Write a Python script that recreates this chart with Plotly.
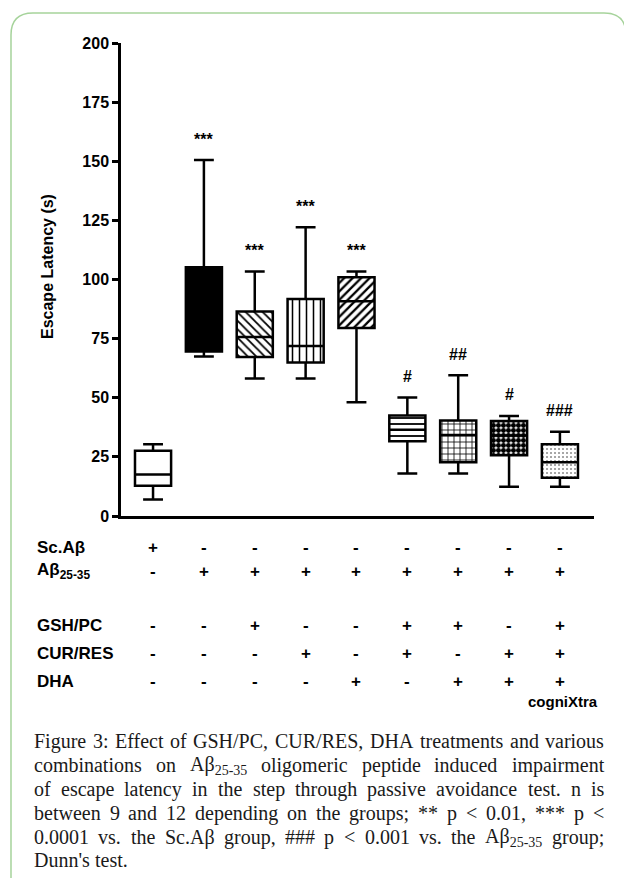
import plotly.graph_objects as go

W, H = 624, 878

# ---------------- data ----------------
groups = ["Sc.Aβ", "Aβ25-35", "Aβ+GSH/PC", "Aβ+CUR/RES", "Aβ+DHA",
          "Aβ+GSH/PC+CUR/RES", "Aβ+GSH/PC+DHA", "Aβ+CUR/RES+DHA", "cogniXtra"]
lower_whisker = [7.0, 67.4, 58.1, 58.1, 48.1, 18.0, 18.0, 12.4, 12.4]
q1_values = [12.8, 69.6, 67.2, 64.9, 79.5, 31.6, 22.7, 25.7, 16.2]
median_values = [17.6, 76.0, 75.7, 71.9, 90.8, 36.5, 34.2, 34.0, 22.7]
q3_values = [27.6, 105.2, 86.5, 91.8, 101.0, 42.5, 40.4, 40.2, 30.3]
upper_whisker = [30.3, 150.5, 103.4, 122.1, 103.4, 50.1, 59.5, 42.3, 35.6]
significance = ["", "***", "***", "***", "***", "#", "##", "#", "###"]

y_ticks = [0, 25, 50, 75, 100, 125, 150, 175, 200]

row_labels = ["Sc.Aβ", "Aβ<sub>25-35</sub>", "GSH/PC", "CUR/RES", "DHA"]
row_sc_ab = ["+", "-", "-", "-", "-", "-", "-", "-", "-"]
row_ab = ["-", "+", "+", "+", "+", "+", "+", "+", "+"]
row_gsh = ["-", "-", "+", "-", "-", "+", "+", "-", "+"]
row_cur = ["-", "-", "-", "+", "-", "+", "-", "+", "+"]
row_dha = ["-", "-", "-", "-", "+", "-", "+", "+", "+"]

SUB = "Aβ<sub>25-35</sub>"
caption_lines = [
    "Figure 3: Effect of GSH/PC, CUR/RES, DHA treatments and various",
    "combinations on " + SUB + " oligomeric peptide induced impairment",
    "of escape latency in the step through passive avoidance test. n is",
    "between 9 and 12 depending on the groups; ** p < 0.01, *** p <",
    "0.0001 vs. the Sc.Aβ group, ### p < 0.001 vs. the " + SUB + " group;",
    "Dunn's test.",
]

# ---------------- styles ----------------
xpos = list(range(len(groups)))
pat_shape = ["", "", "\\", "|", "/", "-", "+", ".", "."]
bar_color = ["white", "black", "black", "black", "black", "black", "black", "black", "#8a8a8a"]
pat_size = [6, 6, 6, 7, 6, 6, 6, 5, 4]
pat_sol = [0.3, 0.3, 0.3, 0.22, 0.38, 0.3, 0.25, 0.78, 0.2]

BOLD = "Liberation Sans"
SERIF = "Liberation Serif"

fig = go.Figure()

fig.add_trace(go.Bar(
    x=xpos,
    y=[q3 - q1 for q1, q3 in zip(q1_values, q3_values)],
    base=q1_values,
    width=0.71,
    marker=dict(color=bar_color, line=dict(width=0),
                pattern=dict(shape=pat_shape, size=pat_size, solidity=pat_sol)),
    showlegend=False, hoverinfo="skip",
))

fig.add_trace(go.Box(
    x=xpos,
    q1=q1_values, median=median_values, q3=q3_values,
    lowerfence=lower_whisker, upperfence=upper_whisker,
    width=0.71, whiskerwidth=0.55,
    fillcolor="rgba(0,0,0,0)",
    line=dict(color="black", width=2.5),
    showlegend=False, boxpoints=False,
))

annotations = []
# significance marks
for i, s in enumerate(significance):
    if s:
        annotations.append(dict(x=xpos[i], y=upper_whisker[i], xref="x", yref="y",
                                xanchor="center", yanchor="middle",
                                text="<b>%s</b>" % s, showarrow=False, yshift=21,
                                font=dict(family=BOLD, size=16, color="black")))

# y axis title
annotations.append(dict(x=47 / W, y=1 - 267 / H, xref="paper", yref="paper",
                        xanchor="center", yanchor="middle",
                        text="<b>Escape Latency (s)</b>", textangle=-90, showarrow=False,
                        font=dict(family=BOLD, size=16, color="black")))

# treatment table
rows = [row_sc_ab, row_ab, row_gsh, row_cur, row_dha]
row_y = [547, 571, 625, 653, 681]
for label, vals, yy in zip(row_labels, rows, row_y):
    annotations.append(dict(x=35 / W, y=1 - yy / H, xref="paper", yref="paper",
                            xanchor="left", yanchor="middle", text="<b>%s</b>" % label,
                            showarrow=False, font=dict(family=BOLD, size=17, color="black")))
    for i, v in enumerate(vals):
        annotations.append(dict(x=xpos[i], y=1 - yy / H, xref="x", yref="paper",
                                xanchor="center", yanchor="middle",
                                text="<b>%s</b>" % v, showarrow=False,
                                font=dict(family=BOLD, size=17, color="black")))
annotations.append(dict(x=600 / W, y=1 - 701 / H, xref="paper", yref="paper",
                        xanchor="right", yanchor="middle", text="<b>cogniXtra</b>",
                        showarrow=False, font=dict(family=BOLD, size=15, color="black")))

# caption: justified by placing words with Times-compatible metrics
TW = {' ': 250, '!': 333, '#': 500, "'": 180, '(': 333, ')': 333, '*': 500, '+': 564,
      ',': 250, '-': 333, '.': 250, '/': 278, ':': 278, ';': 278, '<': 564, 'β': 500}
for ch, w in zip("abcdefghijklmnopqrstuvwxyz",
                 [444, 500, 444, 500, 444, 333, 500, 500, 278, 278, 500, 278, 778,
                  500, 500, 500, 500, 333, 389, 278, 500, 500, 722, 500, 500, 444]):
    TW[ch] = w
for ch, w in zip("ABCDEFGHIJKLMNOPQRSTUVWXYZ",
                 [722, 667, 667, 722, 611, 556, 722, 722, 333, 389, 722, 611, 889,
                  722, 722, 556, 722, 667, 556, 611, 722, 722, 944, 722, 722, 611]):
    TW[ch] = w
for ch in "0123456789":
    TW[ch] = 500


def word_em(word):
    if "<sub>" in word:
        pre, rest = word.split("<sub>")
        sub, post = rest.split("</sub>")
        return (sum(TW.get(c, 500) for c in pre) + 0.7 * sum(TW.get(c, 500) for c in sub)
                + sum(TW.get(c, 500) for c in post)) / 1000.0
    return sum(TW.get(c, 500) for c in word) / 1000.0


CAP_SIZE = 20
CAP_LEFT, CAP_RIGHT = 33, 603
cap_y = [741, 765, 789, 813, 837, 860]
for li, (line, yy) in enumerate(zip(caption_lines, cap_y)):
    words = line.split()
    widths = [word_em(w) * CAP_SIZE for w in words]
    last = li == len(caption_lines) - 1
    if last or len(words) < 2:
        gap = 0.25 * CAP_SIZE
    else:
        gap = (CAP_RIGHT - CAP_LEFT - sum(widths)) / (len(words) - 1)
    xcur = CAP_LEFT
    for w, wd in zip(words, widths):
        annotations.append(dict(x=xcur / W, y=1 - yy / H, xref="paper", yref="paper",
                                xanchor="left", yanchor="middle",
                                text=w.replace("<", "&lt;").replace("&lt;sub>", "<sub>")
                                .replace("&lt;/sub>", "</sub>"),
                                showarrow=False, borderpad=0,
                                font=dict(family=SERIF, size=CAP_SIZE, color="#1a1a1a")))
        xcur += wd + gap

# frame (rounded green border)
r = 22
L, T, R, B = 11, 13, 626, 900


def px(x):
    return x / W


def py_(y):
    return 1 - y / H


path = "M %f,%f Q %f,%f %f,%f L %f,%f Q %f,%f %f,%f L %f,%f Q %f,%f %f,%f L %f,%f" % (
    px(L + r), py_(B), px(L), py_(B), px(L), py_(B - r),
    px(L), py_(T + r), px(L), py_(T), px(L + r), py_(T),
    px(R - r), py_(T), px(R), py_(T), px(R), py_(T + r),
    px(R), py_(B))

fig.update_layout(
    width=W, height=H,
    margin=dict(l=0, r=0, t=0, b=0),
    template="none",
    paper_bgcolor="white", plot_bgcolor="white",
    showlegend=False,
    annotations=annotations,
    shapes=[dict(type="path", path=path, xref="paper", yref="paper",
                 line=dict(color="#a6d39b", width=1.5), layer="below")],
    xaxis=dict(domain=[121 / W, 594 / W], range=[-0.63, 8.67], showgrid=False,
               zeroline=False, showline=True, linecolor="black", linewidth=2.5,
               ticks="", showticklabels=False, automargin=False, fixedrange=True),
    yaxis=dict(domain=[1 - 516 / H, 1 - 43 / H], range=[0, 200], tickvals=y_ticks,
               showgrid=False, zeroline=False, showline=True, linecolor="black",
               linewidth=2.5, ticks="outside", ticklen=6, tickwidth=2.5, tickcolor="black",
               tickfont=dict(family=BOLD, size=16, color="black", weight="bold"),
               automargin=False, fixedrange=True),
    bargap=0,
)

fig.write_html("out.html", config={"displayModeBar": False},
               post_script="document.body.style.margin='0px';")
